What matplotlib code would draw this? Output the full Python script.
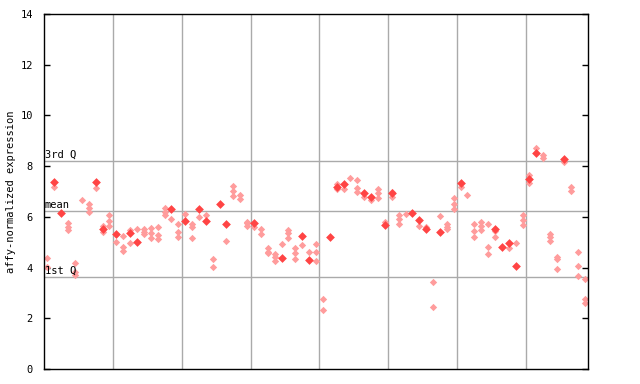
import matplotlib
matplotlib.use("Agg")
import matplotlib.pyplot as plt

# summary lines
q3 = 8.21
mean_val = 6.23
q1 = 3.62

n_samples = 79
group_edges = [10, 20, 30, 40, 50, 60, 70]
yticks = [0, 2, 4, 6, 8, 10, 12, 14]

# solid markers: sample index, value
filled_idx = [1, 2, 7, 8, 10, 12, 13, 18, 20, 22, 23, 25, 26, 30, 34, 37, 38,
              41, 42, 43, 46, 47, 49, 50, 53, 54, 55, 57, 60, 65, 66, 67, 68,
              70, 71, 75]
filled_val = [7.39, 6.16, 7.36, 5.54, 5.31, 5.35, 5.02, 6.30, 5.85, 6.30, 5.85,
              6.50, 5.70, 5.74, 4.39, 5.24, 4.30, 5.20, 7.19, 7.31, 6.93, 6.79,
              5.68, 6.93, 6.14, 5.88, 5.51, 5.41, 7.32, 5.54, 4.80, 4.98, 4.06,
              7.48, 8.50, 8.28]

# dotted markers: sample index -> values
dith = {
    0: [4.36, 4.03], 1: [7.19], 3: [5.74, 5.61, 5.48], 4: [4.20, 3.84, 3.71],
    5: [6.66], 6: [6.49, 6.33, 6.18], 7: [7.15], 8: [5.65, 5.41],
    9: [6.07, 5.84, 5.64], 10: [5.00], 11: [5.24, 4.82, 4.65], 12: [5.48, 4.98],
    13: [5.52], 14: [5.54, 5.41, 5.32], 15: [5.57, 5.35, 5.18],
    16: [5.61, 5.28, 5.13], 17: [6.33, 6.20, 6.07], 18: [5.90],
    19: [5.70, 5.41, 5.22], 20: [6.10], 21: [5.72, 5.61, 5.16], 22: [5.98],
    23: [6.07], 24: [4.32, 4.03], 26: [5.06], 27: [7.22, 7.02, 6.82],
    28: [6.86, 6.69], 29: [5.81, 5.74, 5.64], 30: [5.61], 31: [5.54, 5.32],
    32: [4.76, 4.63, 4.56], 33: [4.53, 4.40, 4.27], 34: [4.92],
    35: [5.48, 5.35, 5.18], 36: [4.76, 4.56, 4.32], 37: [4.89], 38: [4.60],
    39: [4.92, 4.60, 4.27], 40: [2.75, 2.31], 42: [7.28, 7.10], 43: [7.08],
    44: [7.55], 45: [7.45, 7.12, 6.99], 46: [6.79], 47: [6.66],
    48: [7.10, 6.93, 6.76], 49: [5.81], 50: [6.99, 6.79], 51: [6.07, 5.90, 5.70],
    52: [6.10], 54: [5.65], 55: [5.61], 56: [3.42, 2.46], 57: [6.05],
    58: [5.70, 5.61, 5.52], 59: [6.73, 6.49, 6.30], 60: [7.19], 61: [6.86],
    62: [5.72, 5.44, 5.22], 63: [5.81, 5.64, 5.48], 64: [5.72, 4.82, 4.52],
    65: [5.45, 5.22], 67: [4.76], 68: [4.98], 69: [6.07, 5.88, 5.67],
    70: [7.65, 7.35], 71: [8.70], 72: [8.44, 8.33], 73: [5.31, 5.19, 5.06],
    74: [4.40, 4.32, 3.93], 75: [8.17], 76: [7.19, 7.03], 77: [4.60, 4.07, 3.67],
    78: [3.54, 2.75, 2.61],
}

mono = "DejaVu Sans Mono"

fig = plt.figure(figsize=(6.4, 3.84), dpi=100)
ax = fig.add_axes([44 / 640, 1 - 369 / 384, 544 / 640, 355 / 384])

for x in group_edges:
    ax.axvline(x, color="#aaaaaa", lw=1, zorder=1)
for y in [q3, mean_val, q1]:
    ax.axhline(y, color="#aaaaaa", lw=1, zorder=1)

dx = []
dy = []
for i, vals in dith.items():
    for v in vals:
        dx.append(i + 0.5)
        dy.append(v)
ax.scatter(dx, dy, marker="D", s=14, color="#ff9c9c", lw=0, zorder=2)
ax.scatter([i + 0.5 for i in filled_idx], filled_val, marker="D", s=20,
           color="#ff4444", lw=0, zorder=3)

ax.text(0.1, q3 + 0.05, "3rd Q", fontsize=7.5, family=mono, va="bottom", zorder=4)
ax.text(0.1, mean_val + 0.05, "mean", fontsize=7.5, family=mono, va="bottom", zorder=4)
ax.text(0.1, q1 + 0.05, "1st Q", fontsize=7.5, family=mono, va="bottom", zorder=4)

ax.set_xlim(0, n_samples)
ax.set_ylim(0, 14)
ax.set_xticks([])
ax.set_yticks(yticks)
ax.set_yticklabels([str(t) for t in yticks], family=mono, fontsize=7.5)
ax.tick_params(axis="y", direction="in", length=4, width=1, pad=8,
               right=True, left=True)
for s in ax.spines.values():
    s.set_linewidth(1)
ax.set_ylabel("affy-normalized expression", family=mono, fontsize=7.5, labelpad=3)

fig.savefig("out.png", dpi=100)
